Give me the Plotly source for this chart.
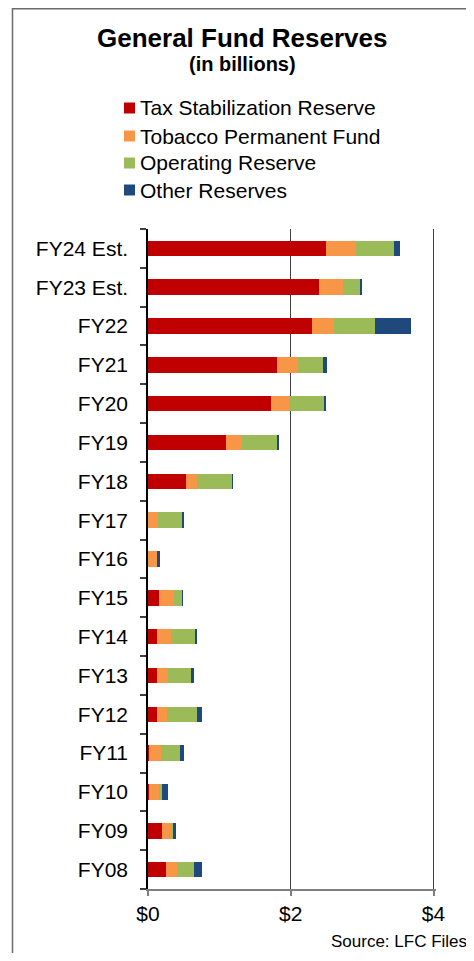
import plotly.graph_objects as go

categories = ["FY08", "FY09", "FY10", "FY11", "FY12", "FY13", "FY14", "FY15", "FY16",
              "FY17", "FY18", "FY19", "FY20", "FY21", "FY22", "FY23 Est.", "FY24 Est."]
tax_stabilization = [0.25, 0.19, 0.02, 0.02, 0.12, 0.12, 0.12, 0.15, 0.00,
                     0.00, 0.53, 1.09, 1.72, 1.81, 2.30, 2.39, 2.49]
tobacco_permanent = [0.15, 0.14, 0.14, 0.16, 0.14, 0.16, 0.20, 0.22, 0.13,
                     0.14, 0.16, 0.23, 0.25, 0.29, 0.30, 0.34, 0.43]
operating_reserve = [0.25, 0.02, 0.03, 0.27, 0.43, 0.32, 0.34, 0.11, 0.00,
                     0.34, 0.49, 0.49, 0.50, 0.35, 0.58, 0.24, 0.53]
other_reserves = [0.10, 0.04, 0.09, 0.05, 0.06, 0.04, 0.03, 0.01, 0.04,
                  0.02, 0.01, 0.03, 0.03, 0.06, 0.50, 0.03, 0.08]

series_names = ["Tax Stabilization Reserve", "Tobacco Permanent Fund",
                "Operating Reserve", "Other Reserves"]
series_values = [tax_stabilization, tobacco_permanent, operating_reserve, other_reserves]
series_colors = ["#C00000", "#F79646", "#9BBB59", "#1F497D"]

x_ticks = [0, 2, 4]
x_tick_labels = ["$0", "$2", "$4"]

FONT = "Arial, Liberation Sans, sans-serif"
OFF = 8  # page body margin
W, H = 474 - 2 * OFF, 961 - 2 * OFF
# plot area in window pixels: x 148..436, y 229..889
L, T = 148 - OFF, 229 - OFF
R = W - (436 - OFF)
B = H - (889 - OFF)
PW, PH = W - L - R, H - T - B
X_MAX = 4 * PW / 285.5


def px_x(px):
    return (px - OFF - L) / PW


def px_y(py):
    return (H - B - (py - OFF)) / PH


fig = go.Figure()
for name, vals, col in zip(series_names, series_values, series_colors):
    fig.add_trace(go.Bar(
        y=categories, x=vals, name=name, orientation="h",
        marker=dict(color=col, line=dict(width=0)),
        showlegend=False,
    ))

annotations = [
    dict(text="<b>General Fund Reserves</b>", x=px_x(242), y=px_y(38),
         xref="paper", yref="paper", showarrow=False, xanchor="center", yanchor="middle",
         font=dict(size=26, color="black", family=FONT)),
    dict(text="<b>(in billions)</b>", x=px_x(242), y=px_y(64),
         xref="paper", yref="paper", showarrow=False, xanchor="center", yanchor="middle",
         font=dict(size=20, color="black", family=FONT)),
    dict(text="Source: LFC Files", x=px_x(329), y=px_y(941),
         xref="paper", yref="paper", showarrow=False, xanchor="left", yanchor="middle",
         font=dict(size=17, color="black", family=FONT)),
]
shapes = [
    dict(type="rect", xref="paper", yref="paper",
         x0=px_x(12.5), x1=px_x(500), y0=px_y(8.8), y1=px_y(1000),
         line=dict(color="#6b6b6b", width=1.5), fillcolor="rgba(0,0,0,0)", layer="below"),
]
legend_rows = [108, 136, 163, 190]
for name, col, ry in zip(series_names, series_colors, legend_rows):
    shapes.append(dict(type="rect", xref="paper", yref="paper",
                       x0=px_x(124), x1=px_x(135), y0=px_y(ry + 5.5), y1=px_y(ry - 5.5),
                       line=dict(width=0), fillcolor=col))
    annotations.append(dict(text=name, x=px_x(138), y=px_y(ry), xref="paper", yref="paper",
                            showarrow=False, xanchor="left", yanchor="middle",
                            font=dict(size=21, color="black", family=FONT)))

fig.update_layout(
    barmode="stack",
    bargap=0.6,
    width=W, height=H,
    margin=dict(l=L, r=R, t=T, b=B, pad=0),
    paper_bgcolor="white", plot_bgcolor="white",
    font=dict(family=FONT, color="black", size=21),
    annotations=annotations,
    shapes=shapes,
    xaxis=dict(range=[0, X_MAX], tickvals=x_ticks, ticktext=x_tick_labels,
               showgrid=True, gridcolor="#404040", gridwidth=1,
               zeroline=False, showline=True, linecolor="#7f7f7f", linewidth=1.5,
               ticks="outside", ticklen=5, tickcolor="#7f7f7f", tickwidth=1.5,
               tickfont=dict(size=21, family=FONT, color="black"),
               fixedrange=True),
    yaxis=dict(categoryorder="array", categoryarray=categories,
               showgrid=False, zeroline=False, showline=True, linecolor="black", linewidth=1.5,
               ticks="outside", ticklen=6, tickcolor="#404040", tickwidth=1.5,
               tickson="boundaries",
               tickfont=dict(size=21, family=FONT, color="black"),
               ticklabelstandoff=14, fixedrange=True),
)

fig.write_html("out.html")
